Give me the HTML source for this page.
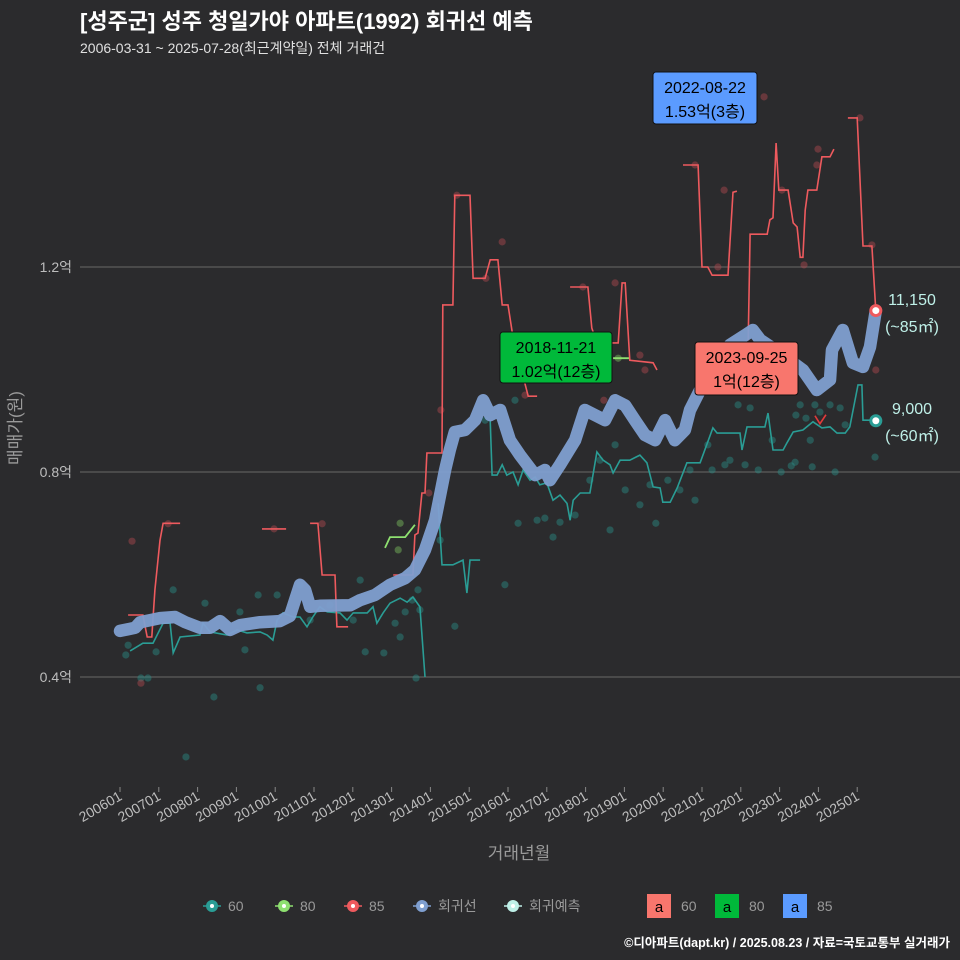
<!DOCTYPE html>
<html><head><meta charset="utf-8">
<style>
body{margin:0;background:#2b2b2d;}
svg{display:block;font-family:"Liberation Sans","Noto Sans CJK KR",sans-serif;}
</style></head>
<body>
<svg id="chart" width="960" height="960" viewBox="0 0 960 960">
<rect width="960" height="960" fill="#2b2b2d"/>
<text x="80" y="29" fill="#ffffff" font-size="22" font-weight="bold">[성주군] 성주 청일가야 아파트(1992) 회귀선 예측</text>
<text x="80" y="53" fill="#e0e0e0" font-size="14">2006-03-31 ~ 2025-07-28(최근계약일) 전체 거래건</text>
<g id="grid"></g>
<g id="yaxis"></g>
<g id="xaxis"></g>
<g id="dots"></g>
<g id="lines"></g>
<text x="519" y="859" fill="#9a9a9a" font-size="17" text-anchor="middle">거래년월</text>
<text transform="translate(21,428) rotate(-90)" fill="#9a9a9a" font-size="17" text-anchor="middle">매매가(원)</text>
<g id="annot"></g>
<g id="legend"></g>
<text x="950" y="947" fill="#ffffff" font-size="12.5" font-weight="bold" text-anchor="end">©디아파트(dapt.kr) / 2025.08.23 / 자료=국토교통부 실거래가</text>
</svg>
<script>
const yTicks=[4000,8000,12000];
const yTickLabels=["0.4억","0.8억","1.2억"];
const xTickYears=[2006,2007,2008,2009,2010,2011,2012,2013,2014,2015,2016,2017,2018,2019,2020,2021,2022,2023,2024,2025];
const xTickLabels=["200601","200701","200801","200901","201001","201101","201201","201301","201401","201501","201601","201701","201801","201901","202001","202101","202201","202301","202401","202501"];
const regT=[2006.0,2006.39,2006.52,2007.03,2007.42,2007.68,2008.06,2008.32,2008.58,2008.84,2009.09,2009.61,2010.12,2010.38,2010.51,2010.64,2010.77,2010.9,2011.15,2011.93,2012.19,2012.57,2012.96,2013.35,2013.6,2013.86,2014.12,2014.25,2014.38,2014.5,2014.63,2014.89,2015.15,2015.36,2015.54,2015.8,2016.05,2016.31,2016.7,2016.95,2017.08,2017.34,2017.73,2017.98,2018.24,2018.5,2018.76,2019.02,2019.27,2019.53,2019.79,2020.05,2020.3,2020.56,2020.69,2020.95,2021.2,2021.72,2022.11,2022.31,2022.5,2023.01,2023.6,2023.96,2024.3,2024.35,2024.63,2024.89,2025.15,2025.33,2025.48];
const regV=[4900,4960,5070,5150,5170,5070,4960,4960,5090,4920,5010,5070,5090,5190,5500,5800,5700,5370,5390,5400,5500,5600,5800,5930,6090,6480,7060,7550,8040,8430,8780,8820,9010,9400,9110,9210,8620,8330,7940,8040,7840,8140,8620,9210,9110,9010,9400,9300,9010,8720,8620,9010,8620,8820,9210,9600,9990,10480,10670,10770,10580,10320,9990,9600,9800,10380,10770,10130,10050,10440,11150];
const s60T=[2006.26,2006.59,2006.85,2007.11,2007.29,2007.37,2007.55,2008.06,2008.14,2008.32,2008.76,2009.02,2009.27,2009.61,2009.79,2009.94,2010.05,2010.2,2010.46,2010.64,2010.82,2010.97,2011.15,2011.34,2011.67,2011.85,2012.01,2012.37,2012.52,2012.62,2012.78,2012.96,2013.22,2013.4,2013.55,2013.73,2013.86,null,2014.2,2014.3,2014.58,2014.84,2014.94,2015.02,2015.28,null,2015.54,2015.59,2015.72,2015.85,2015.97,2016.13,2016.26,2016.39,2016.57,2016.7,2016.82,2017.0,2017.16,2017.34,2017.52,2017.6,2017.68,2017.86,2018.11,2018.29,2018.45,2018.63,2018.71,2018.89,2019.14,2019.4,2019.58,2019.74,2019.92,2019.99,2020.18,2020.36,2020.61,2020.95,2021.28,2021.39,2021.98,2022.03,2022.16,2022.62,2022.7,2022.83,2023.09,2023.19,2023.35,2023.6,2023.86,2024.09,2024.3,2024.48,2024.69,2024.81,2025.02,2025.12,2025.15,2025.33,2025.48];
const s60V=[4510,4660,4660,5050,5050,4470,4780,4820,5050,4880,4820,4920,4860,4880,4820,4720,5110,5250,5170,5170,4980,5170,5370,5270,5250,5110,5250,5250,5370,5050,5250,5440,5540,5460,5560,5370,4000,null,7390,6190,6190,6280,5640,6280,6280,null,9010,7940,7940,8140,7940,8000,7750,8040,7840,7900,7750,7790,7450,7550,7390,7060,7450,7590,7590,8390,8230,8140,7980,8230,8230,8330,8180,7710,7690,7410,7410,7690,8180,8180,8860,8760,8760,8430,8880,8880,9150,8430,8430,8570,8780,8820,8980,8860,8880,8760,8760,8880,9700,9700,9010,9010,9000];
const s85T=[2006.21,2006.59,2006.7,2006.82,2006.9,2007.03,2007.11,2007.55,null,2009.66,2010.28,null,2010.9,2011.1,2011.21,2011.54,2011.59,2011.88,null,2013.04,2013.55,2013.6,2013.68,2013.78,2013.86,2013.91,2014.3,2014.32,2014.58,2014.63,2015.02,2015.1,2015.41,2015.54,2015.74,2015.85,2016.0,2016.13,2016.52,2016.75,null,2017.6,2018.06,2018.16,2018.29,2018.84,2018.94,2019.02,2019.14,2019.74,2019.84,null,2020.51,2020.9,2021.0,2021.15,2021.26,2021.67,2021.8,2021.9,null,2022.19,2022.24,2022.68,2022.75,2022.83,2022.91,2022.98,2023.22,2023.35,2023.45,2023.53,2023.6,2023.66,2023.73,2023.96,2024.09,2024.3,2024.4,null,2024.76,2025.0,2025.15,2025.38,2025.48];
const s85V=[5210,5210,4780,4780,5700,6670,7000,7000,null,6890,6890,null,7000,7000,5990,5990,4980,4980,null,5990,5990,6770,6810,7590,7590,8370,8370,11260,11260,13400,13400,11780,11780,12140,12140,11260,11260,10630,9480,9480,null,11610,11610,10810,10520,10520,11690,11690,10180,10130,9990,null,13990,13990,12000,12000,11840,11840,13460,13480,null,10570,12640,12640,12920,12960,14420,13500,13500,12860,12780,12190,12190,13110,13500,13500,14150,14150,14300,null,14910,14910,12410,12410,11150];
const s80T=[2012.83,2012.96,2013.35,2013.6,null,2018.71,2019.14];
const s80V=[6520,6730,6730,6970,null,10220,10220];
const dot60T=[2006.21,2006.15,2006.54,2006.72,2006.93,2007.37,2007.7,2008.19,2008.42,2009.09,2009.22,2009.56,2009.61,2010.05,2010.64,2010.9,2011.41,2012.01,2012.19,2012.32,2012.8,2013.09,2013.22,2013.35,2013.53,2013.63,2013.73,2013.68,2014.25,2014.63,2015.41,2015.92,2016.18,2016.26,2016.75,2016.95,2017.16,2017.34,2017.73,2018.11,2018.37,2018.63,2018.76,2019.02,2019.4,2019.66,2019.81,2020.12,2020.43,2020.69,2020.82,2021.15,2021.26,2021.59,2021.72,2021.93,2022.11,2022.24,2022.45,2022.81,2023.04,2023.42,2023.53,2023.68,2023.79,2023.91,2024.04,2024.3,2024.56,2024.69,2025.46,2023.4,2023.84,2023.3,2024.43];
const dot60V=[4620,4430,3980,3980,4490,5700,2440,5440,3610,5270,4530,5600,3790,5600,5800,5110,5400,5110,5890,4490,4470,5050,4780,5270,5500,3980,5310,5700,6670,4990,9010,5800,9400,7000,7060,7100,6730,7020,7160,7840,8230,6870,8530,7650,7360,7750,7000,7840,7650,8040,7450,8530,8040,8140,8230,9310,8140,9250,8040,8620,8000,9110,9310,9050,8620,9310,9170,9310,9250,8920,8290,8190,8100,8120,8000];
const dot85T=[2006.31,2006.54,2007.24,2009.97,2011.21,2013.96,2014.27,2014.68,2015.43,2015.85,2016.44,2017.93,2018.76,2018.47,2019.4,2019.53,2021.57,2020.82,2021.41,2022.6,2023.06,2023.63,2023.99,2023.96,2025.07,2025.38,2025.48];
const dot85V=[6650,3880,6990,6890,6990,7590,9210,13400,11780,12490,9500,11610,11690,9400,10280,9990,13500,13990,12000,15320,13500,12040,14300,13990,14910,12430,9990];
const dot80T=[2013.22,2013.17,2018.84];
const dot80V=[7000,6480,10220];

const NS="http://www.w3.org/2000/svg";
const X0=120,PXY=38.8,Y0=677,PXV=0.05125;
function xs(t){return X0+(t-2006)*PXY;}
function ys(v){return Y0-(v-4000)*PXV;}
function mk(tag,attrs,parent){const e=document.createElementNS(NS,tag);for(const k in attrs)e.setAttribute(k,attrs[k]);parent.appendChild(e);return e;}
const grid=document.getElementById('grid'),yax=document.getElementById('yaxis'),xax=document.getElementById('xaxis');
yTicks.forEach((v,i)=>{
  const l=mk('line',{x1:80,x2:960,y1:ys(v),y2:ys(v),stroke:'#5c5c5c','stroke-width':1.2},grid);
  
  
  const t=mk('text',{x:72,y:ys(v)+5,fill:'#bdbdbd','font-size':14,'text-anchor':'end'},yax);
  t.textContent=yTickLabels[i];
  
  
});
xTickYears.forEach((yr,i)=>{
  const x=xs(yr);
  const tk=mk('line',{x1:x,x2:x,y1:787,y2:792,stroke:'#888','stroke-width':1},xax);
  
  
  const t=mk('text',{transform:`translate(${x+3},${799}) rotate(-30)`,fill:'#bdbdbd','font-size':14,'text-anchor':'end'},xax);
  t.textContent=xTickLabels[i];
  
  
});
function pathFrom(T,V){let d='',pen=false;for(let i=0;i<T.length;i++){if(T[i]===null){pen=false;continue;}d+=(pen?'L':'M')+xs(T[i]).toFixed(1)+','+ys(V[i]).toFixed(1);pen=true;}return d;}
const dots=document.getElementById('dots'),lines=document.getElementById('lines');
function addDots(T,V,col,name){T.forEach((t,i)=>{const c=mk('circle',{cx:xs(t),cy:ys(V[i]),r:3.6,fill:col,'fill-opacity':0.45},dots);
  
  });}
addDots(dot60T,dot60V,'#2a8f87','trade-point-60');
addDots(dot85T,dot85V,'#b24a4f','trade-point-85');
addDots(dot80T,dot80V,'#7dc060','trade-point-80');
const p60=mk('path',{d:pathFrom(s60T,s60V),fill:'none',stroke:'#2a9d95','stroke-width':1.6},lines);


const p80=mk('path',{d:pathFrom(s80T,s80V),fill:'none',stroke:'#8ee070','stroke-width':1.8},lines);


const p85=mk('path',{d:pathFrom(s85T,s85V),fill:'none',stroke:'#ee5a5e','stroke-width':1.6},lines);


const reg=mk('path',{d:pathFrom(regT,regV),fill:'none',stroke:'#7f9fd0','stroke-width':12.5,'stroke-linejoin':'round','stroke-linecap':'round','stroke-opacity':0.95},lines);


const xm=mk('path',{d:`M${xs(2024.04)-5},${ys(9000)-5}L${xs(2024.04)},${ys(9000)+3}L${xs(2024.04)+6},${ys(9000)-6}`,fill:'none',stroke:'#e23b3b','stroke-width':1.6},lines);


const e85=mk('circle',{cx:xs(regT[regT.length-1]),cy:ys(regV[regV.length-1]),r:5,fill:'#fff',stroke:'#ee5a5e','stroke-width':3},lines);


const e60=mk('circle',{cx:xs(s60T[s60T.length-1]),cy:ys(s60V[s60V.length-1]),r:5,fill:'#fff',stroke:'#2a9d95','stroke-width':3},lines);


const an=document.getElementById('annot');
function label(x,y,a,b,name){const t1=mk('text',{x:x,y:y,fill:'#bff0e8','font-size':16,'text-anchor':'middle'},an);t1.textContent=a;
 
 
 const t2=mk('text',{x:x,y:y+27,fill:'#bff0e8','font-size':16,'text-anchor':'middle'},an);t2.textContent=b;
 
 }
label(912,305,'11,150','(~85㎡)','end-label-85');
label(912,414,'9,000','(~60㎡)','end-label-60');
function box(x,y,w,h,col,a,b,name){const g=mk('g',{},an);
 
 
 mk('rect',{x:x,y:y,width:w,height:h,rx:3,fill:col,stroke:'#111','stroke-width':1},g);
 const t1=mk('text',{x:x+w/2,y:y+21,fill:'#000','font-size':16,'text-anchor':'middle'},g);t1.textContent=a;
 const t2=mk('text',{x:x+w/2,y:y+45,fill:'#000','font-size':16,'text-anchor':'middle'},g);t2.textContent=b;}
box(500,332,112,51,'#00b93a','2018-11-21','1.02억(12층)','annotation-80');
box(653,72,104,52,'#5b9bff','2022-08-22','1.53억(3층)','annotation-85-max');
box(695,342,103,53,'#f8766d','2023-09-25','1억(12층)','annotation-60');
const lg=document.getElementById('legend');
const items=[['60','#2a9d95',212],['80','#8ee070',284],['85','#ee5a5e',353],['회귀선','#7f9fd0',422],['회귀예측','#bff0e8',513]];
items.forEach(it=>{const g=mk('g',{},lg);
 
 
 mk('line',{x1:it[2]-9,x2:it[2]+9,y1:906,y2:906,stroke:it[1],'stroke-width':1.5},g);
 mk('circle',{cx:it[2],cy:906,r:6,fill:it[1]},g);
 mk('circle',{cx:it[2],cy:906,r:2,fill:'#fff'},g);
 const t=mk('text',{x:it[2]+16,y:911,fill:'#9a9a9a','font-size':14},g);t.textContent=it[0];});
const boxes=[['60','#f8766d',647],['80','#00b93a',715],['85','#5b9bff',783]];
boxes.forEach(b=>{const g=mk('g',{},lg);
 
 
 mk('rect',{x:b[2],y:894,width:24,height:24,fill:b[1]},g);
 const a=mk('text',{x:b[2]+12,y:912,fill:'#000','font-size':15,'text-anchor':'middle'},g);a.textContent='a';
 const t=mk('text',{x:b[2]+34,y:911,fill:'#9a9a9a','font-size':14},g);t.textContent=b[0];});
</script>
</body></html>
